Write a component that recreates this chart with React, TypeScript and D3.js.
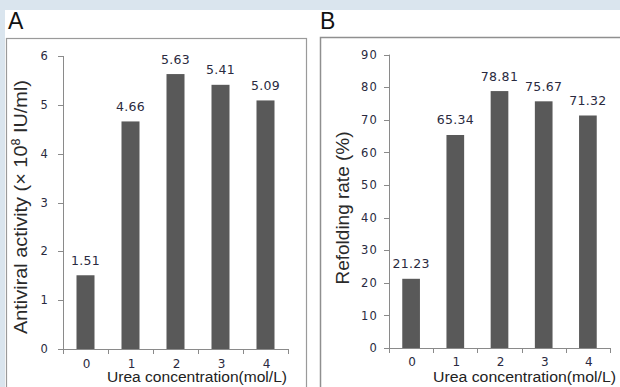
import React from "react";
import * as d3 from "d3";

const categories = ["0", "1", "2", "3", "4"];
const antiviral = [1.51, 4.66, 5.63, 5.41, 5.09];
const refolding = [21.23, 65.34, 78.81, 75.67, 71.32];
const ticksA = [0, 1, 2, 3, 4, 5, 6];
const ticksB = [0, 10, 20, 30, 40, 50, 60, 70, 80, 90];

const BAR = "#595959";
const AXIS = "#8a8a8a";
const NUM_FONT = "'DejaVu Sans', Verdana, sans-serif";
const TXT_FONT = "'Liberation Sans', Arial, sans-serif";

type PanelProps = {
  values: number[];
  ticks: number[];
  yMax: number;
  x0: number;
  x1: number;
  y0: number;
  y1: number;
  tickLabelX: number;
  fmt: (v: number) => string;
  yLabel: React.ReactNode;
  yLabelX: number;
  yLabelY: number;
  yLabelLen: number;
  xLabelX: number;
  xLabelLen: number;
  xTickY: number;
};

function Panel(p: PanelProps) {
  const x = d3
    .scaleBand<string>()
    .domain(categories)
    .range([p.x0, p.x1])
    .paddingInner(0.6)
    .paddingOuter(0.3);
  const y = d3.scaleLinear().domain([0, p.yMax]).range([p.y0, p.y1]);
  const step = x.step();
  const bounds = d3.range(categories.length + 1).map((i) => p.x0 + i * step);
  return (
    <g>
      {p.values.map((v, i) => (
        <rect
          key={"b" + i}
          x={x(categories[i])!}
          y={y(v)}
          width={x.bandwidth()}
          height={p.y0 - y(v)}
          fill={BAR}
        />
      ))}
      {p.values.map((v, i) => (
        <text
          key={"v" + i}
          x={x(categories[i])! + x.bandwidth() / 2}
          y={y(v) - 10.5}
          textAnchor="middle"
          fontFamily={NUM_FONT}
          fontSize={12.5}
          letterSpacing={0.3}
          fill="#2a2a40"
        >
          {p.fmt(v)}
        </text>
      ))}
      <line x1={p.x0 + 0.5} x2={p.x0 + 0.5} y1={p.y1} y2={p.y0} stroke={AXIS} />
      <line x1={p.x0} x2={p.x1} y1={p.y0 + 0.5} y2={p.y0 + 0.5} stroke={AXIS} />
      {p.ticks.map((t) => (
        <g key={"t" + t}>
          <line
            x1={p.x0 - 5}
            x2={p.x0}
            y1={Math.round(y(t)) + 0.5}
            y2={Math.round(y(t)) + 0.5}
            stroke={AXIS}
          />
          <text
            x={p.tickLabelX}
            y={y(t)}
            dy="0.36em"
            textAnchor="end"
            fontFamily={NUM_FONT}
            fontSize={11.5}
            letterSpacing={1.2}
            fill="#2a2a40"
          >
            {t}
          </text>
        </g>
      ))}
      {bounds.map((bx, i) => (
        <line
          key={"xt" + i}
          x1={Math.round(bx) + 0.5}
          x2={Math.round(bx) + 0.5}
          y1={p.y0}
          y2={p.y0 + 5}
          stroke={AXIS}
        />
      ))}
      {categories.map((c) => (
        <text
          key={"xl" + c}
          x={x(c)! + x.bandwidth() / 2 + 1}
          y={p.xTickY}
          textAnchor="middle"
          fontFamily={NUM_FONT}
          fontSize={12}
          fill="#2a2a40"
        >
          {c}
        </text>
      ))}
      <text
        transform={`translate(${p.yLabelX},${p.yLabelY}) rotate(-90)`}
        textAnchor="middle"
        fontFamily={TXT_FONT}
        fontSize={19}
        fill="#2a2a2a"
        textLength={p.yLabelLen}
        lengthAdjust="spacingAndGlyphs"
      >
        {p.yLabel}
      </text>
      <text
        x={p.xLabelX}
        y={382}
        fontFamily={TXT_FONT}
        fontSize={14}
        fill="#222"
        textLength={p.xLabelLen}
        lengthAdjust="spacingAndGlyphs"
      >
        Urea concentration(mol/L)
      </text>
    </g>
  );
}

export default function App() {
  return (
    <svg
      width={620}
      height={387}
      style={{ position: "absolute", left: 0, top: 0, background: "#fff" }}
    >
      <rect x={0} y={0} width={620} height={10} fill="#dae5ee" />
      <rect x={0} y={0} width={5} height={387} fill="#dae5ee" />
      <text x={8} y={29} fontFamily={TXT_FONT} fontSize={23} fill="#111">
        A
      </text>
      <text x={320} y={29} fontFamily={TXT_FONT} fontSize={23} fill="#111">
        B
      </text>
      <rect x={6.5} y={38.5} width={300} height={400} fill="none" stroke="#9a9a9a" strokeWidth={1.2} />
      <rect x={320.5} y={37.5} width={320} height={400} fill="none" stroke="#8f8f8f" strokeWidth={1.5} />
      <Panel
        values={antiviral}
        ticks={ticksA}
        yMax={6}
        x0={63}
        x1={288}
        y0={349}
        y1={56}
        tickLabelX={49}
        fmt={(v) => v.toFixed(2)}
        yLabel={
          <>
            Antiviral activity (× 10
            <tspan dy={-7} fontSize={12}>8</tspan>
            <tspan dy={7}> IU/ml)</tspan>
          </>
        }
        yLabelX={27}
        yLabelY={207}
        yLabelLen={254}
        xLabelX={107}
        xLabelLen={180}
        xTickY={367.5}
      />
      <Panel
        values={refolding}
        ticks={ticksB}
        yMax={90}
        x0={389}
        x1={610}
        y0={348}
        y1={54.6}
        tickLabelX={378}
        fmt={(v) => v.toFixed(2)}
        yLabel={<>Refolding rate (%)</>}
        yLabelX={349}
        yLabelY={208}
        yLabelLen={153}
        xLabelX={433}
        xLabelLen={183}
        xTickY={365.5}
      />
    </svg>
  );
}
